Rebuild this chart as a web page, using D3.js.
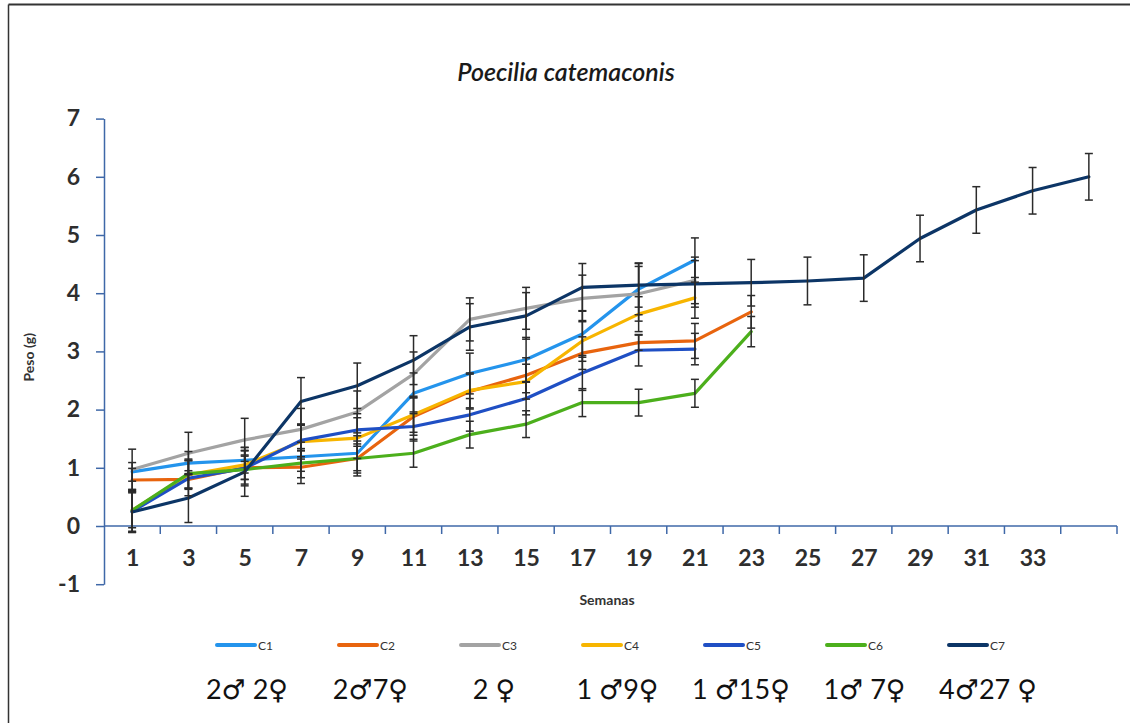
<!DOCTYPE html>
<html>
<head>
<meta charset="utf-8">
<script src="https://cdn.jsdelivr.net/npm/d3@7"></script>
<style>
  html, body { margin: 0; padding: 0; background: #fff; }
  svg { display: block; }
</style>
</head>
<body>
<svg id="chart" width="1130" height="723"></svg>
<script>
// Weeks on the category axis (the last one carries no label)
const weeks = ["1","3","5","7","9","11","13","15","17","19","21","23","25","27","29","31","33",""];
const yTicks = [-1, 0, 1, 2, 3, 4, 5, 6, 7];

const seriesNames = ["C1","C2","C3","C4","C5","C6","C7"];
const groupLabels = ["2\u2642 2\u2640","2\u26427\u2640","2 \u2640","1 \u26429\u2640","1 \u264215\u2640","1\u2642 7\u2640","4\u264227 \u2640"];

// Mean weight (g) per sampling week
const c1 = [0.93, 1.08, 1.13, 1.19, 1.25, 2.28, 2.62, 2.86, 3.30, 4.07, 4.57];
const c2 = [0.79, 0.80, 1.00, 1.01, 1.16, 1.88, 2.31, 2.59, 2.97, 3.15, 3.18, 3.68];
const c3 = [0.97, 1.25, 1.48, 1.66, 1.96, 2.61, 3.55, 3.74, 3.91, 3.99, 4.22];
const c4 = [0.27, 0.88, 1.05, 1.45, 1.51, 1.91, 2.33, 2.48, 3.18, 3.64, 3.92];
const c5 = [0.25, 0.82, 0.99, 1.47, 1.65, 1.71, 1.91, 2.19, 2.63, 3.02, 3.04];
const c6 = [0.27, 0.90, 0.97, 1.08, 1.16, 1.25, 1.57, 1.75, 2.12, 2.12, 2.28, 3.34];
const c7 = [0.24, 0.48, 0.93, 2.14, 2.41, 2.85, 3.42, 3.61, 4.10, 4.14, 4.16, 4.18, 4.21, 4.26, 4.94, 5.43, 5.76, 6.00];

// Standard deviation per point
const e1 = [0.16, 0.20, 0.22, 0.25, 0.30, 0.35, 0.35, 0.38, 0.40, 0.44, 0.38];
const e2 = [0.20, 0.15, 0.20, 0.28, 0.30, 0.32, 0.30, 0.30, 0.28, 0.13, 0.30, 0.28];
const e3 = [0.35, 0.36, 0.37, 0.36, 0.36, 0.38, 0.37, 0.36, 0.40, 0.47, 0.40];
const e4 = [0.30, 0.25, 0.25, 0.30, 0.35, 0.30, 0.30, 0.30, 0.35, 0.30, 0.35];
const e5 = [0.36, 0.30, 0.30, 0.28, 0.28, 0.25, 0.28, 0.28, 0.30, 0.27, 0.27];
const e6 = [0.36, 0.25, 0.25, 0.25, 0.25, 0.24, 0.23, 0.23, 0.24, 0.23, 0.24, 0.26];
const e7 = [0.35, 0.42, 0.42, 0.41, 0.39, 0.42, 0.40, 0.40, 0.41, 0.38, 0.40, 0.40, 0.41, 0.40, 0.40, 0.40, 0.40, 0.40];

const colors = ["#2494ec", "#e8640e", "#a3a3a3", "#f7b500", "#1f4fc4", "#4caf1c", "#0c3566"];

const means = [c1, c2, c3, c4, c5, c6, c7];
const sds = [e1, e2, e3, e4, e5, e6, e7];

const svg = d3.select("#chart");
const font = "Lato, 'DejaVu Sans', sans-serif";
const axisColor = "#3f68a8";

// Frame around the chart area
svg.append("line").attr("x1", 8.5).attr("x2", 1130).attr("y1", 4.5).attr("y2", 4.5)
  .attr("stroke", "#333").attr("stroke-width", 2);
svg.append("line").attr("x1", 8.5).attr("x2", 8.5).attr("y1", 4.5).attr("y2", 723)
  .attr("stroke", "#333").attr("stroke-width", 1.5);

const x = d3.scaleBand().domain(weeks.map((w, i) => i)).range([104, 1117]).padding(0);
const bw = x.bandwidth();
const y = d3.scaleLinear().domain([-1, 7]).range([584.2, 118.6]);
const px = i => x(i) + bw / 2;

// Title
svg.append("text").attr("x", 566).attr("y", 81).attr("text-anchor", "middle")
  .attr("font-family", font).attr("font-style", "italic").attr("font-weight", 600)
  .attr("font-size", 25).attr("fill", "#1a1a1a").text("Poecilia catemaconis");

// Y axis
const yAxis = d3.axisLeft(y).tickValues(yTicks).tickSize(8).tickSizeOuter(0).tickPadding(16)
  .tickFormat(d => d < 0 ? "-" + Math.abs(d) : String(d));
const gy = svg.append("g").attr("transform", "translate(104,0)").call(yAxis);
gy.select(".domain").attr("stroke", axisColor).attr("stroke-width", 1.5);
gy.selectAll(".tick line").attr("stroke", axisColor).attr("stroke-width", 1.5);
gy.selectAll(".tick text").attr("font-family", font).attr("font-weight", "bold")
  .attr("font-size", 23).attr("fill", "#2e2e2e");

// X axis at zero, ticks on the category boundaries
const x0 = y(0);
const xAxis = d3.axisBottom(d3.scalePoint().domain(weeks.map((w, i) => i)).range([px(0), px(weeks.length - 1)]))
  .tickSize(0).tickPadding(24).tickFormat(i => weeks[i]);
const gx = svg.append("g").attr("transform", `translate(0,${x0})`).call(xAxis);
gx.select(".domain").remove();
gx.selectAll(".tick text").attr("font-family", font).attr("font-weight", "bold")
  .attr("font-size", 23).attr("fill", "#2e2e2e");
svg.append("line").attr("x1", 104).attr("x2", 1117).attr("y1", x0).attr("y2", x0)
  .attr("stroke", axisColor).attr("stroke-width", 1.5);
svg.append("g").selectAll("line").data(weeks).join("line")
  .attr("x1", (d, i) => x(i) + bw).attr("x2", (d, i) => x(i) + bw)
  .attr("y1", x0).attr("y2", x0 + 8)
  .attr("stroke", axisColor).attr("stroke-width", 1.5);

// Axis titles
svg.append("text").attr("transform", `translate(34,${y(2.9)}) rotate(-90)`)
  .attr("text-anchor", "middle").attr("font-family", font).attr("font-weight", "bold")
  .attr("font-size", 14).attr("fill", "#333").text("Peso (g)");
svg.append("text").attr("x", 607).attr("y", 605).attr("text-anchor", "middle")
  .attr("font-family", font).attr("font-weight", "bold").attr("font-size", 14)
  .attr("fill", "#333").text("Semanas");

// Lines
const line = d3.line().x((d, i) => px(i)).y(d => y(d));
svg.append("g").selectAll("path").data(means).join("path")
  .attr("d", d => line(d)).attr("fill", "none")
  .attr("stroke", (d, i) => colors[i]).attr("stroke-width", 3.2)
  .attr("stroke-linejoin", "round").attr("stroke-linecap", "round");

// Error bars
const errG = svg.append("g").attr("stroke", "#2b2b2b").attr("stroke-width", 1.5);
means.forEach((m, s) => {
  m.forEach((v, i) => {
    const sd = sds[s][i];
    const cx = px(i);
    errG.append("line").attr("x1", cx).attr("x2", cx).attr("y1", y(v + sd)).attr("y2", y(v - sd));
    errG.append("line").attr("x1", cx - 4).attr("x2", cx + 4).attr("y1", y(v + sd)).attr("y2", y(v + sd));
    errG.append("line").attr("x1", cx - 4).attr("x2", cx + 4).attr("y1", y(v - sd)).attr("y2", y(v - sd));
  });
});

// Legend
const leg = svg.append("g").selectAll("g").data(seriesNames).join("g")
  .attr("transform", (d, i) => `translate(${217 + i * 122},645)`);
leg.append("line").attr("x1", 0).attr("x2", 38).attr("y1", 0).attr("y2", 0)
  .attr("stroke", (d, i) => colors[i]).attr("stroke-width", 4).attr("stroke-linecap", "round");
leg.append("text").attr("x", 41).attr("y", 4.5).attr("font-family", font)
  .attr("font-size", 12).attr("fill", "#333").text(d => d);

// Group composition under each legend entry
svg.append("g").selectAll("text").data(groupLabels).join("text")
  .attr("x", (d, i) => 247 + i * 123.5).attr("y", 699).attr("text-anchor", "middle")
  .attr("font-family", font).attr("font-size", 27).attr("fill", "#111").text(d => d);
</script>
</body>
</html>
